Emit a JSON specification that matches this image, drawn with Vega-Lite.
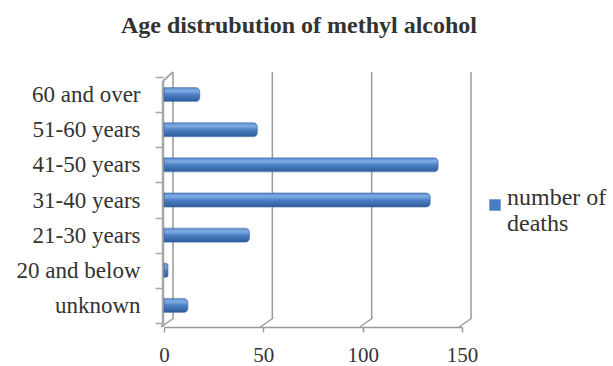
{
  "$schema": "https://vega.github.io/schema/vega-lite/v6.json",
  "width": 298,
  "height": 246,
  "autosize": "none",
  "padding": {"left": 164, "top": 77, "right": 151, "bottom": 43},
  "background": "white",
  "title": {
    "text": "Age distrubution of methyl alcohol",
    "font": "Liberation Serif",
    "fontSize": 24,
    "fontWeight": "bold",
    "color": "#333333",
    "anchor": "middle",
    "frame": "group",
    "dx": -14,
    "offset": 9,
    "baseline": "alphabetic"
  },
  "config": {"view": {"stroke": null}, "font": "Liberation Serif"},
  "datasets": {
    "deaths": [
      {"age": "60 and over", "deaths": 18},
      {"age": "51-60 years", "deaths": 47},
      {"age": "41-50 years", "deaths": 138},
      {"age": "31-40 years", "deaths": 134},
      {"age": "21-30 years", "deaths": 43},
      {"age": "20 and below", "deaths": 2},
      {"age": "unknown", "deaths": 12}
    ],
    "ticks": [{"v": 0}, {"v": 50}, {"v": 100}, {"v": 150}]
  },
  "layer": [
    {
      "data": {"name": "ticks"},
      "encoding": {
        "x": {"field": "v", "type": "quantitative", "scale": {"domain": [0, 150], "nice": false}}
      },
      "layer": [
        {
          "mark": {"type": "rule", "color": "#9a9a9a", "strokeWidth": 1.5, "xOffset": 9, "yOffset": -5, "y2Offset": -5},
          "encoding": {
            "y": {"datum": 0, "type": "quantitative", "scale": {"domain": [0, 1]}, "axis": null},
            "y2": {"datum": 1}
          }
        },
        {
          "mark": {"type": "rule", "color": "#9a9a9a", "strokeWidth": 1.5, "xOffset": -3, "x2Offset": 10, "yOffset": 4, "y2Offset": -5},
          "encoding": {
            "x2": {"field": "v"},
            "y": {"datum": 0, "type": "quantitative", "scale": {"domain": [0, 1]}, "axis": null},
            "y2": {"datum": 0}
          }
        },
        {
          "transform": [{"filter": "datum.v == 0"}],
          "mark": {"type": "rule", "color": "#a6a6a6", "strokeWidth": 2.5, "xOffset": -1, "yOffset": 4, "y2Offset": 4},
          "encoding": {
            "y": {"datum": 0, "type": "quantitative", "scale": {"domain": [0, 1]}, "axis": null},
            "y2": {"datum": 1}
          }
        },
        {
          "transform": [{"filter": "datum.v == 0"}],
          "mark": {"type": "rule", "color": "#a6a6a6", "strokeWidth": 2, "xOffset": -1, "x2Offset": 9, "yOffset": 4, "y2Offset": -5},
          "encoding": {
            "x2": {"field": "v"},
            "y": {"datum": 1, "type": "quantitative", "scale": {"domain": [0, 1]}, "axis": null},
            "y2": {"datum": 1}
          }
        }
      ]
    },
    {
      "data": {"name": "deaths"},
      "mark": {
        "type": "bar",
        "height": 14,
        "cornerRadiusEnd": 4,
        "stroke": "#3b6aa6",
        "strokeWidth": 0.6,
        "fill": {
          "gradient": "linear",
          "x1": 0, "y1": 0, "x2": 0, "y2": 1,
          "stops": [
            {"offset": 0, "color": "#5d8fd2"},
            {"offset": 0.25, "color": "#80abe2"},
            {"offset": 0.5, "color": "#4c80c6"},
            {"offset": 1, "color": "#2e5b98"}
          ]
        }
      },
      "encoding": {
        "y": {
          "field": "age",
          "type": "nominal",
          "sort": null,
          "scale": {"paddingInner": 0, "paddingOuter": 0},
          "axis": {
            "title": null,
            "domain": false,
            "grid": false,
            "offset": 1,
            "tickBand": "extent",
            "tickOffset": 4,
            "labelOffset": 0,
            "tickSize": 8,
            "tickColor": "#a6a6a6",
            "tickWidth": 1.5,
            "labelFont": "Liberation Serif",
            "labelFontSize": 23,
            "labelColor": "#333333",
            "labelPadding": 15
          }
        },
        "x": {
          "field": "deaths",
          "type": "quantitative",
          "scale": {"domain": [0, 150], "nice": false},
          "axis": {
            "title": null,
            "values": [0, 50, 100, 150],
            "grid": false,
            "offset": 4,
            "domainColor": "#9a9a9a",
            "domainWidth": 1.5,
            "tickColor": "#9a9a9a",
            "tickWidth": 1.5,
            "tickSize": 5,
            "labelFlush": false,
            "labelFont": "Liberation Serif",
            "labelFontSize": 21,
            "labelColor": "#333333",
            "labelPadding": 12
          }
        }
      }
    },
    {
      "data": {"name": "deaths"},
      "mark": {"type": "square", "opacity": 0},
      "encoding": {
        "color": {
          "datum": "number of deaths",
          "type": "nominal",
          "scale": {"range": ["#4a7dbf"]},
          "legend": {
            "orient": "none",
            "legendX": 319,
            "legendY": 116,
            "title": null,
            "padding": 0,
            "symbolType": "square",
            "symbolSize": 130,
            "symbolOpacity": 1,
            "symbolStrokeWidth": 0,
            "labelFont": "Liberation Serif",
            "labelFontSize": 24,
            "labelColor": "#333333",
            "labelExpr": "['number of', 'deaths']",
            "labelBaseline": "alphabetic",
            "labelOffset": 0
          }
        }
      }
    }
  ],
  "resolve": {"scale": {"y": "independent"}}
}
